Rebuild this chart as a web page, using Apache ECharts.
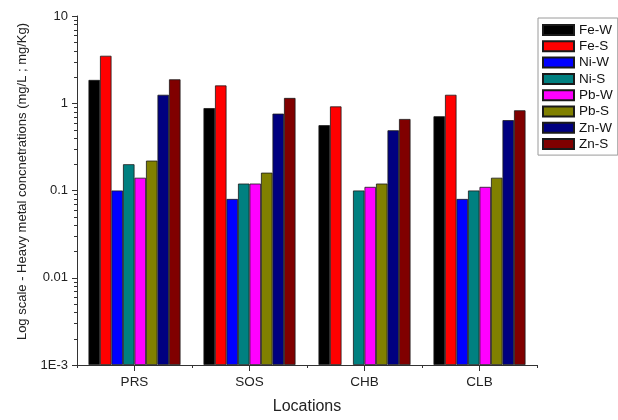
<!DOCTYPE html>
<html>
<head>
<meta charset="utf-8">
<script src="https://cdn.jsdelivr.net/npm/echarts@6/dist/echarts.min.js"></script>
<style>
  html, body { margin: 0; padding: 0; background: #fff; }
  #chart { width: 618px; height: 420px; }
</style>
</head>
<body>
<div id="chart"></div>
<script>
// Sampling locations
const categories = ['PRS', 'SOS', 'CHB', 'CLB'];

// Heavy metal concentrations: water (mg/L) and sediment (mg/Kg)
const feW = [1.85, 0.88, 0.56, 0.71];
const feS = [3.5, 1.6, 0.92, 1.25];
const niW = [0.10, 0.08, null, 0.08];
const niS = [0.20, 0.12, 0.10, 0.10];
const pbW = [0.14, 0.12, 0.11, 0.11];
const pbS = [0.22, 0.16, 0.12, 0.14];
const znW = [1.25, 0.76, 0.49, 0.64];
const znS = [1.88, 1.15, 0.66, 0.83];

const seriesNames = ['Fe-W', 'Fe-S', 'Ni-W', 'Ni-S', 'Pb-W', 'Pb-S', 'Zn-W', 'Zn-S'];
const seriesData = [feW, feS, niW, niS, pbW, pbS, znW, znS];
const seriesColors = ['#000000', '#ff0000', '#0000ff', '#008080', '#ff00ff', '#808000', '#000080', '#800000'];

// Log-axis tick labels
const yTickLabels = { '10': '10', '1': '1', '0.1': '0.1', '0.01': '0.01', '0.001': '1E-3' };

const FONT = '"Liberation Sans", Arial, sans-serif';
const GRID = { left: 77, right: 81, top: 16, bottom: 50 };

const chart = echarts.init(document.getElementById('chart'), null, { renderer: 'canvas' });

const option = {
  animation: false,
  backgroundColor: '#ffffff',
  textStyle: { fontFamily: FONT },
  grid: { left: GRID.left, right: GRID.right, top: GRID.top, bottom: GRID.bottom, containLabel: false },
  legend: {
    orient: 'vertical',
    left: 538,
    top: 18,
    width: 79,
    itemWidth: 31,
    itemHeight: 10,
    itemGap: 2.3,
    padding: [5, 5, 4, 4],
    borderColor: '#9a9a9a',
    borderWidth: 1,
    icon: 'rect',
    textStyle: { fontFamily: FONT, fontSize: 13.5, color: '#111' },
    data: seriesNames
  },
  xAxis: [
    {
      type: 'category',
      data: categories,
      name: 'Locations',
      nameLocation: 'middle',
      nameGap: 34,
      nameTextStyle: { fontFamily: FONT, fontSize: 16, color: '#222' },
      axisLine: { show: true, lineStyle: { color: '#333', width: 1 } },
      axisTick: { show: true, alignWithLabel: true, length: 6, lineStyle: { color: '#333' } },
      axisLabel: { fontFamily: FONT, fontSize: 13.5, color: '#222', margin: 10 },
      splitLine: { show: false }
    },
    {
      // boundary ticks between locations
      type: 'category',
      data: categories,
      position: 'bottom',
      axisLine: { show: false },
      axisTick: { show: true, length: 3, lineStyle: { color: '#333' } },
      axisLabel: { show: false },
      splitLine: { show: false }
    }
  ],
  yAxis: {
    type: 'log',
    logBase: 10,
    min: 0.001,
    max: 10,
    startValue: 0.001,
    name: 'Log scale - Heavy metal concnetrations (mg/L ; mg/Kg)',
    nameLocation: 'middle',
    nameGap: 48,
    nameTextStyle: { fontFamily: FONT, fontSize: 13, color: '#222', padding: [0, 0, 0, 18] },
    axisLine: { show: true, lineStyle: { color: '#333', width: 1 } },
    axisTick: { show: true, inside: false, length: 5, lineStyle: { color: '#333' } },
    axisLabel: {
      fontFamily: FONT, fontSize: 13, color: '#222', margin: 9,
      formatter: function (v) {
        const key = String(+v.toPrecision(3));
        return yTickLabels[key] !== undefined ? yTickLabels[key] : '';
      }
    },
    splitLine: { show: false }
  },
  series: seriesNames.map(function (name, i) {
    return {
      name: name,
      type: 'bar',
      xAxisIndex: 0,
      barGap: '0%',
      barCategoryGap: '20%',
      data: seriesData[i],
      itemStyle: { color: seriesColors[i], borderColor: '#1a1a1a', borderWidth: 0.8 }
    };
  })
};

chart.setOption(option);

// Minor ticks at 2..9 of each decade on the log axis, placed through the axis scale
function drawMinorTicks() {
  const elements = [];
  for (let e = -3; e < 1; e++) {
    for (let m = 2; m <= 9; m++) {
      const v = m * Math.pow(10, e);
      const y = Math.round(chart.convertToPixel({ yAxisIndex: 0 }, v)) + 0.5;
      elements.push({
        type: 'line',
        shape: { x1: GRID.left - 3, y1: y, x2: GRID.left, y2: y },
        style: { stroke: '#333', lineWidth: 1 },
        silent: true
      });
    }
  }
  chart.setOption({ graphic: elements });
}
drawMinorTicks();
</script>
</body>
</html>
